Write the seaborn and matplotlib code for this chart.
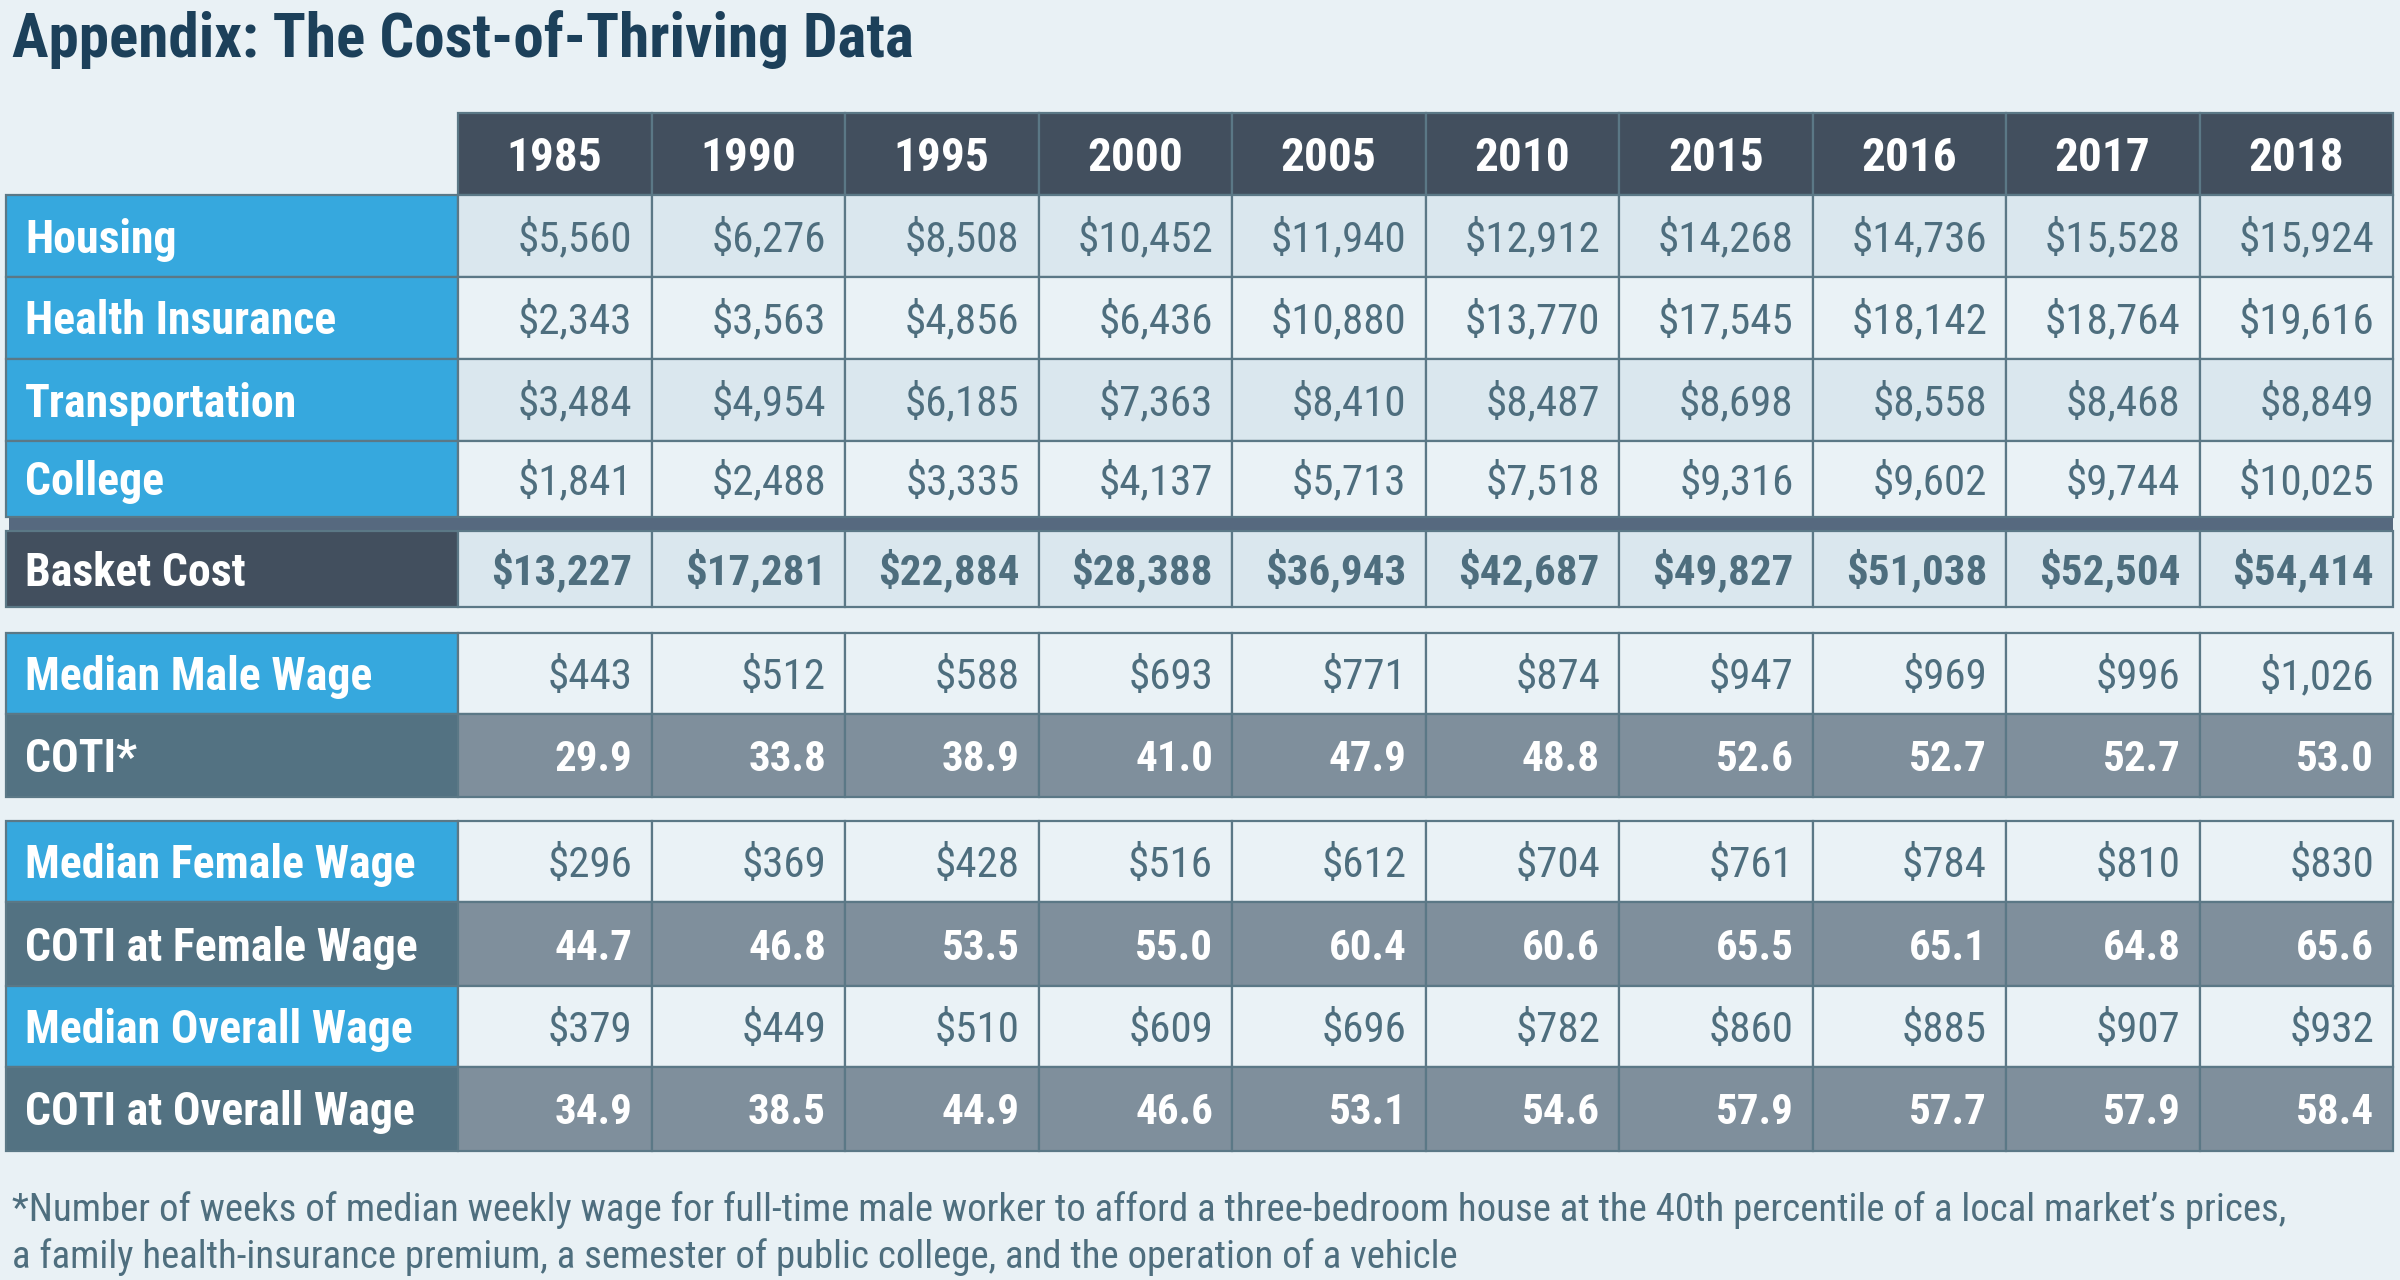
import matplotlib
matplotlib.use('Agg')
import matplotlib.pyplot as plt
from matplotlib import font_manager
import seaborn as sns

# ---- data ----
years = [1985, 1990, 1995, 2000, 2005, 2010, 2015, 2016, 2017, 2018]
housing = [5560, 6276, 8508, 10452, 11940, 12912, 14268, 14736, 15528, 15924]
health_insurance = [2343, 3563, 4856, 6436, 10880, 13770, 17545, 18142, 18764, 19616]
transportation = [3484, 4954, 6185, 7363, 8410, 8487, 8698, 8558, 8468, 8849]
college = [1841, 2488, 3335, 4137, 5713, 7518, 9316, 9602, 9744, 10025]
basket_cost = [13227, 17281, 22884, 28388, 36943, 42687, 49827, 51038, 52504, 54414]
male_wage = [443, 512, 588, 693, 771, 874, 947, 969, 996, 1026]
coti = [29.9, 33.8, 38.9, 41.0, 47.9, 48.8, 52.6, 52.7, 52.7, 53.0]
female_wage = [296, 369, 428, 516, 612, 704, 761, 784, 810, 830]
coti_female = [44.7, 46.8, 53.5, 55.0, 60.4, 60.6, 65.5, 65.1, 64.8, 65.6]
overall_wage = [379, 449, 510, 609, 696, 782, 860, 885, 907, 932]
coti_overall = [34.9, 38.5, 44.9, 46.6, 53.1, 54.6, 57.9, 57.7, 57.9, 58.4]

title = 'Appendix: The Cost-of-Thriving Data'
footnote_lines = [
    "*Number of weeks of median weekly wage for full-time male worker to afford a "
    "three-bedroom house at the 40th percentile of a local market\u2019s prices,",
    "a family health-insurance premium, a semester of public college, and the "
    "operation of a vehicle",
]

# ---- colours ----
BG = '#E9F1F5'
TITLE = '#1C405A'
HEADER = '#424F5E'
BLUE = '#36A8DE'
COTI_LABEL = '#537282'
COTI_CELL = '#7F8F9C'
CELL_DARK = '#DAE7EE'
CELL_LIGHT = '#EAF2F6'
BAND = '#56697F'
LINE = '#5B7886'
TEXT = '#4E6E7E'

sns.set_theme(style='white', rc={'figure.facecolor': BG, 'axes.facecolor': BG})
plt.rcParams['font.family'] = ['DejaVu Sans']


def weight_of(f):
    w = f.weight
    return font_manager.weight_dict.get(w, 400) if isinstance(w, str) else w


# look for a narrow / condensed sans face among the installed fonts
narrow = [f for f in font_manager.fontManager.ttflist
          if ('condensed' in f.fname.lower() or 'narrow' in f.fname.lower())
          and f.style == 'normal']
prefer = ['Roboto Condensed', 'Liberation Sans Narrow', 'DejaVu Sans', 'Open Sans',
          'Noto Sans']


def pick(bold):
    for fam in prefer:
        for f in narrow:
            if f.name.startswith(fam):
                w = weight_of(f)
                ok = (700 <= w < 800) if bold else (w == 400)
                if ok and 'semi' not in f.fname.lower() and 'extra' not in f.fname.lower():
                    return f.fname
    return None


reg_file, bold_file = pick(False), pick(True)
if reg_file and bold_file:
    FP_REG = font_manager.FontProperties(fname=reg_file)
    FP_BOLD = font_manager.FontProperties(fname=bold_file)
    SCALE = 1.0
else:
    FP_REG = font_manager.FontProperties(family='DejaVu Sans')
    FP_BOLD = font_manager.FontProperties(family='DejaVu Sans', weight='bold')
    SCALE = 0.8

fig = plt.figure(figsize=(24, 12.8), dpi=100)
ax = fig.add_axes([0, 0, 1, 1])
ax.set_xlim(0, 2400)
ax.set_ylim(1280, 0)
ax.axis('off')

PX = 100 / 72  # pixels per point
LABEL_X0, LABEL_X1 = 6, 458
COL_W = 193.5
col_left = [LABEL_X1 + i * COL_W for i in range(len(years))]
LW = 1.6


def money(v):
    return f'${v:,}'


def one_dec(v):
    return f'{v:.1f}'


# label, values, formatter, label colour, cell colour, value colour, bold, top, height
rows = [
    ('Housing', housing, money, BLUE, CELL_DARK, TEXT, False, 195, 82),
    ('Health Insurance', health_insurance, money, BLUE, CELL_LIGHT, TEXT, False, 277, 82),
    ('Transportation', transportation, money, BLUE, CELL_DARK, TEXT, False, 359, 82),
    ('College', college, money, BLUE, CELL_LIGHT, TEXT, False, 441, 76),
    ('Basket Cost', basket_cost, money, HEADER, CELL_DARK, TEXT, True, 531, 76),
    ('Median Male Wage', male_wage, money, BLUE, CELL_LIGHT, TEXT, False, 633, 81),
    ('COTI*', coti, one_dec, COTI_LABEL, COTI_CELL, 'white', True, 714, 83),
    ('Median Female Wage', female_wage, money, BLUE, CELL_LIGHT, TEXT, False, 821, 81),
    ('COTI at Female Wage', coti_female, one_dec, COTI_LABEL, COTI_CELL, 'white', True, 902, 84),
    ('Median Overall Wage', overall_wage, money, BLUE, CELL_LIGHT, TEXT, False, 986, 81),
    ('COTI at Overall Wage', coti_overall, one_dec, COTI_LABEL, COTI_CELL, 'white', True, 1067, 84),
]

# header row
HEAD_TOP, HEAD_H = 113, 82
ax.bar(col_left, HEAD_H, width=COL_W, bottom=HEAD_TOP, align='edge',
       color=HEADER, edgecolor=LINE, linewidth=LW)
head_size = 34 * SCALE
for x, yr in zip(col_left, years):
    ax.text(x + COL_W / 2, HEAD_TOP + HEAD_H / 2 + 0.36 * head_size * PX, str(yr),
            ha='center', va='baseline', color='white', fontproperties=FP_BOLD,
            fontsize=head_size)

# separator band above the basket cost
ax.bar(LABEL_X0 + 3, 14, width=col_left[-1] + COL_W - LABEL_X0 - 3, bottom=517,
       align='edge', color=BAND, linewidth=0)

label_size, value_size = 33 * SCALE, 31 * SCALE
for label, vals, fmt, lab_c, cell_c, val_c, bold, top, h in rows:
    ax.bar(LABEL_X0, h, width=LABEL_X1 - LABEL_X0, bottom=top, align='edge',
           color=lab_c, edgecolor=LINE, linewidth=LW)
    ax.bar(col_left, h, width=COL_W, bottom=top, align='edge',
           color=cell_c, edgecolor=LINE, linewidth=LW)
    ax.text(LABEL_X0 + 19, top + h / 2 + 0.36 * label_size * PX, label,
            ha='left', va='baseline', color='white', fontproperties=FP_BOLD,
            fontsize=label_size)
    for x, v in zip(col_left, vals):
        ax.text(x + COL_W - 19, top + h / 2 + 0.36 * value_size * PX, fmt(v),
                ha='right', va='baseline', color=val_c,
                fontproperties=FP_BOLD if bold else FP_REG, fontsize=value_size)

ax.text(12, 57, title, ha='left', va='baseline', color=TITLE,
        fontproperties=FP_BOLD, fontsize=44 * SCALE)
for i, line in enumerate(footnote_lines):
    ax.text(12, 1221 + i * 47, line, ha='left', va='baseline', color=TEXT,
            fontproperties=FP_REG, fontsize=28 * SCALE)

fig.savefig('out.png', dpi=100, facecolor=BG)
